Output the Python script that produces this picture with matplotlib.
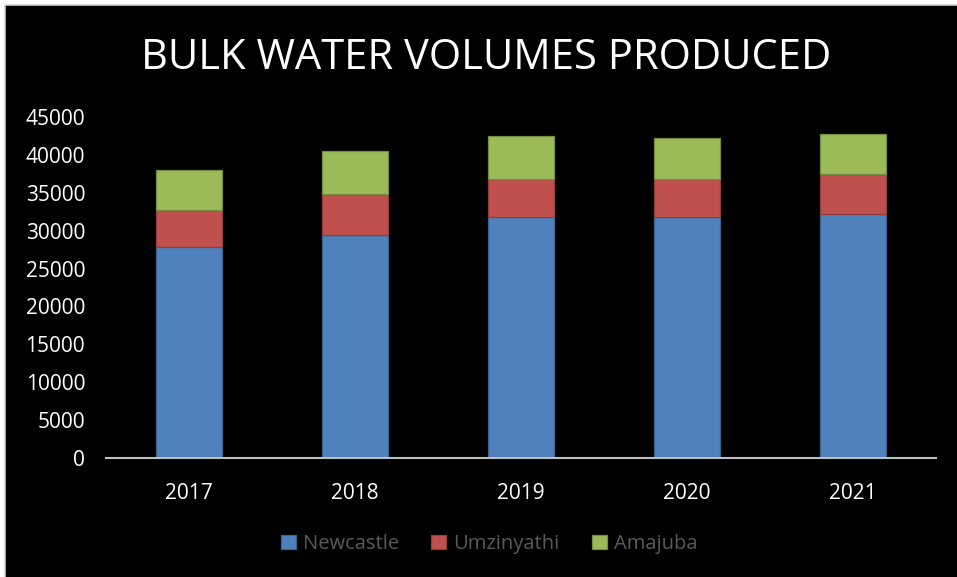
import matplotlib
matplotlib.use("Agg")
import matplotlib.pyplot as plt
from matplotlib.patches import Rectangle
import numpy as np

years = ["2017", "2018", "2019", "2020", "2021"]
newcastle = [27850, 29400, 31800, 31850, 32150]
umzinyathi = [4850, 5450, 5050, 5000, 5300]
amajuba = [5300, 5700, 5600, 5350, 5250]
series_names = ["Newcastle", "Umzinyathi", "Amajuba"]
y_ticks = [0, 5000, 10000, 15000, 20000, 25000, 30000, 35000, 40000, 45000]
title = "BULK WATER VOLUMES PRODUCED"

colors = ["#4F81BD", "#C0504D", "#9BBB59"]
edges = ["#3A6591", "#943C3A", "#748D43"]

plt.rcParams["font.family"] = ["Open Sans", "DejaVu Sans"]

W, H = 957, 577
fig = plt.figure(figsize=(W / 100, H / 100), dpi=100, facecolor="white")

# black chart area with a thin light frame on the left and top
bg = Rectangle((5 / W, -0.05), 1.1, 1.05 - 5 / H, transform=fig.transFigure,
               facecolor="black", edgecolor="#D0D0D0", linewidth=1.2, zorder=-10)
fig.patches.append(bg)

ax = fig.add_axes([106 / W, (H - 458) / H, (936 - 106) / W, (458 - 117) / H])
ax.set_facecolor("none")
ax.set_zorder(5)

x = np.arange(len(years))
width = 0.4
bottom = np.zeros(len(years))
for vals, c, e, name in zip([newcastle, umzinyathi, amajuba], colors, edges, series_names):
    ax.bar(x, vals, width, bottom=bottom, color=c, edgecolor=e, linewidth=0.9,
           label=name, zorder=2)
    bottom += np.array(vals)

ax.set_xlim(-0.5, len(years) - 0.5)
ax.set_ylim(0, 45000)
ax.set_yticks(y_ticks)
ax.set_yticklabels([str(t) for t in y_ticks])
ax.set_xticks(x)
ax.set_xticklabels(years)

for s in ["top", "right", "left"]:
    ax.spines[s].set_visible(False)
ax.spines["bottom"].set_color("#BFBFBF")
ax.spines["bottom"].set_linewidth(1.5)
ax.tick_params(axis="both", length=0, colors="white", labelsize=15)
ax.tick_params(axis="y", pad=15)
ax.tick_params(axis="x", pad=18)

fig.text(486 / W, 1 - 58 / H, title, color="white", fontsize=30,
         ha="center", va="center", zorder=6)

leg = fig.legend(loc="center", bbox_to_anchor=(489 / W, 1 - 544 / H), ncol=3,
                 frameon=False, fontsize=14.5, handlelength=0.75, handleheight=0.75,
                 handletextpad=0.35, columnspacing=1.6)
leg.set_zorder(6)
for t in leg.get_texts():
    t.set_color("#595959")

fig.savefig("out.png", dpi=100, facecolor=fig.get_facecolor())
